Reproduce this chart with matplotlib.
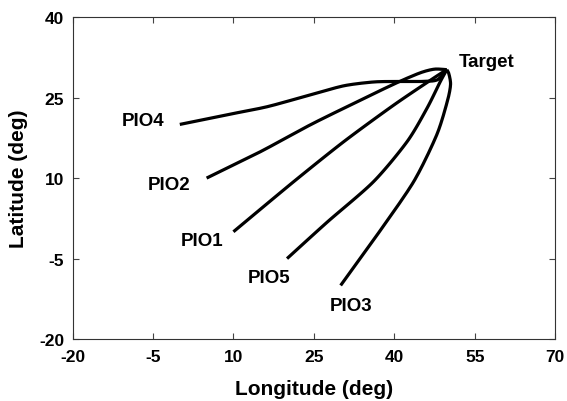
import matplotlib
matplotlib.use("Agg")
import matplotlib.pyplot as plt
import numpy as np

plt.rcParams['font.family'] = ['Liberation Sans', 'DejaVu Sans']
plt.rcParams['font.weight'] = 'bold'
plt.rcParams['axes.unicode_minus'] = False

# Trajectories (longitude, latitude)
pio4_lon = [0.0, 8.8, 16.3, 24.3, 30.6, 36.0, 40.0, 45.0, 48.0, 49.8]
pio4_lat = [20.0, 21.8, 23.3, 25.5, 27.2, 27.9, 28.0, 28.0, 28.3, 30.2]

pio2_lon = [5.0, 15.0, 24.3, 31.8, 39.9, 44.8, 47.5, 49.8]
pio2_lat = [10.0, 14.9, 19.9, 23.6, 27.5, 29.6, 30.3, 30.2]

pio1_lon = [10.0, 21.2, 30.6, 39.9, 47.3, 49.8]
pio1_lat = [0.0, 9.3, 16.8, 23.6, 28.6, 30.2]

pio5_lon = [20.0, 27.5, 36.1, 42.4, 46.1, 48.6, 49.8]
pio5_lat = [-5.0, 1.8, 9.3, 16.8, 23.0, 28.0, 30.2]

pio3_lon = [30.0, 36.8, 43.6, 47.9, 49.9, 50.5, 50.2, 49.8]
pio3_lat = [-10.0, -0.6, 9.3, 18.0, 24.3, 27.4, 29.4, 30.2]

labels = ["PIO4", "PIO2", "PIO1", "PIO5", "PIO3", "Target"]
label_lon = [-6.9, -2.0, 4.2, 16.7, 32.0, 52.1]
label_lat = [20.7, 8.75, -1.6, -8.5, -13.8, 31.7]

xticks = [-20, -5, 10, 25, 40, 55, 70]
yticks = [-20, -5, 10, 25, 40]

fig = plt.figure(figsize=(5.67, 4.02), dpi=100)
ax = fig.add_axes([0.128, 0.154, 0.851, 0.801])


def smooth(lon, lat, n=20, tension=0.5):
    pts = np.column_stack([lon, lat])
    P = np.vstack([pts[0], pts, pts[-1]])
    xs, ys = [], []
    for i in range(1, len(P) - 2):
        p0, p1, p2, p3 = P[i - 1], P[i], P[i + 1], P[i + 2]
        m1 = tension * (p2 - p0)
        m2 = tension * (p3 - p1)
        t = np.linspace(0, 1, n)[:, None]
        h00 = 2 * t ** 3 - 3 * t ** 2 + 1
        h10 = t ** 3 - 2 * t ** 2 + t
        h01 = -2 * t ** 3 + 3 * t ** 2
        h11 = t ** 3 - t ** 2
        c = h00 * p1 + h10 * m1 + h01 * p2 + h11 * m2
        xs.extend(c[:, 0]); ys.extend(c[:, 1])
    return xs, ys


for lon, lat in [(pio4_lon, pio4_lat), (pio2_lon, pio2_lat), (pio1_lon, pio1_lat),
                 (pio5_lon, pio5_lat), (pio3_lon, pio3_lat)]:
    xs, ys = smooth(lon, lat, tension=0.4)
    ax.plot(xs, ys, color='black', lw=2.3, solid_capstyle='butt')

for t, x, y in zip(labels, label_lon, label_lat):
    ha = 'left' if t == "Target" else 'center'
    ax.text(x, y, t, ha=ha, va='center', fontsize=13.5, fontweight='bold')

ax.set_xlim(-20, 70)
ax.set_ylim(-20, 40)
ax.set_xticks(xticks)
ax.set_yticks(yticks)
ax.tick_params(direction='in', top=True, right=True, length=4, width=0.8,
               labelsize=12.5, color='#444444')
ax.tick_params(axis='x', pad=7)
ax.tick_params(axis='y', pad=6)
for lab in ax.get_xticklabels() + ax.get_yticklabels():
    lab.set_fontweight('bold')
for s in ax.spines.values():
    s.set_linewidth(0.8)
    s.set_color('#333333')
ax.set_xlabel("Longitude (deg)", fontsize=15, fontweight='bold', labelpad=11)
ax.set_ylabel("Latitude (deg)", fontsize=15, fontweight='bold', labelpad=8)

fig.savefig("out.png", dpi=100)
